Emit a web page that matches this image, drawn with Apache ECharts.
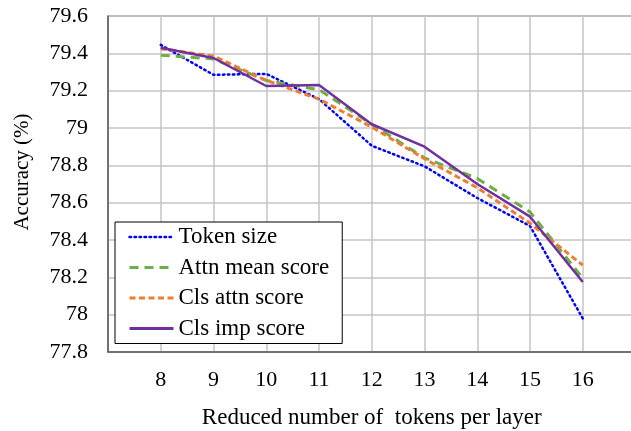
<!DOCTYPE html>
<html>
<head>
<meta charset="utf-8">
<script src="https://cdn.jsdelivr.net/npm/echarts@6/dist/echarts.min.js"></script>
<style>
  html, body { margin: 0; padding: 0; background: #fff; }
  #main { width: 631px; height: 431px; }
</style>
</head>
<body>
<div id="main"></div>
<script>
// tokens removed per layer
var tokens = [8, 9, 10, 11, 12, 13, 14, 15, 16];
var tokenSize     = [79.445, 79.285, 79.29, 79.155, 78.905, 78.795, 78.625, 78.475, 77.98];
var attnMeanScore = [79.39, 79.37, 79.255, 79.205, 79.02, 78.84, 78.73, 78.55, 78.195];
var clsAttnScore  = [79.425, 79.385, 79.255, 79.155, 79.005, 78.835, 78.68, 78.49, 78.265];
var clsImpScore   = [79.43, 79.375, 79.225, 79.23, 79.02, 78.9, 78.70, 78.525, 78.175];

var font = "'Liberation Serif', 'Times New Roman', serif";

function pairs(vals) {
  return tokens.map(function (t, i) { return [t, vals[i]]; });
}

function line(name, vals, color, width, type, cap) {
  return {
    name: name,
    type: "line",
    data: pairs(vals),
    symbol: "none",
    lineStyle: { color: color, width: width, type: type, cap: cap || "butt" },
    itemStyle: { color: color },
  };
}

var myChart = echarts.init(document.getElementById("main"));
var option = {
  backgroundColor: "#fff",
  animation: false,
  grid: {
    left: 108,
    top: 16,
    right: -4.5,
    bottom: 79,
    outerBoundsMode: "none",
    show: true,
    borderColor: "#595959",
    borderWidth: 1,
  },
  legend: {
    orient: "vertical",
    left: 115,
    top: 222,
    padding: [3.5, 13, 3.5, 13],
    itemWidth: 44,
    itemHeight: 14,
    itemGap: 7.5,
    backgroundColor: "#fff",
    borderColor: "#000",
    borderWidth: 1,
    itemStyle: { opacity: 0 },
    textStyle: { fontFamily: font, fontSize: 23, color: "#000", lineHeight: 23 },
    data: [
      { name: "Token size", lineStyle: { width: 2.5 } },
      { name: "Attn mean score", lineStyle: { width: 3 } },
      { name: "Cls attn score", lineStyle: { width: 3 } },
      { name: "Cls imp score", lineStyle: { width: 3 } },
    ],
  },
  xAxis: {
    type: "value",
    min: 7,
    max: 17,
    interval: 1,
    name: "Reduced number of  tokens per layer",
    nameLocation: "middle",
    nameGap: 54,
    nameTextStyle: { fontFamily: font, fontSize: 23, color: "#000" },
    axisLine: { show: true, lineStyle: { color: "#595959", width: 1.5 } },
    axisTick: { show: false },
    splitLine: { show: true, lineStyle: { color: "#c4c4c4", width: 1.5 } },
    axisLabel: {
      margin: 17,
      fontFamily: font,
      fontSize: 22,
      color: "#000",
      formatter: function (v) {
        return tokens.indexOf(v) >= 0 ? String(v) : "";
      },
    },
  },
  yAxis: {
    type: "value",
    min: 77.8,
    max: 79.6,
    interval: 0.2,
    axisLine: { show: true, lineStyle: { color: "#595959", width: 1.5 } },
    axisTick: { show: false },
    splitLine: { show: true, lineStyle: { color: "#c4c4c4", width: 1.5 } },
    axisLabel: { margin: 20, fontFamily: font, fontSize: 22, color: "#000" },
  },
  graphic: [
    {
      type: "text",
      x: 22,
      y: 172,
      rotation: Math.PI / 2,
      style: {
        text: "Accuracy (%)",
        fontFamily: font,
        fontSize: 21,
        fill: "#000",
        align: "center",
        verticalAlign: "middle",
      },
    },
  ],
  series: [
    line("Token size", tokenSize, "#0000ff", 2.5, [1.5, 3.5], "round"),
    line("Attn mean score", attnMeanScore, "#70ad47", 3, [9, 6]),
    line("Cls attn score", clsAttnScore, "#ed7d31", 3, [6, 3.5]),
    line("Cls imp score", clsImpScore, "#7030a0", 2.5, "solid"),
  ],
};
myChart.setOption(option);
</script>
</body>
</html>
